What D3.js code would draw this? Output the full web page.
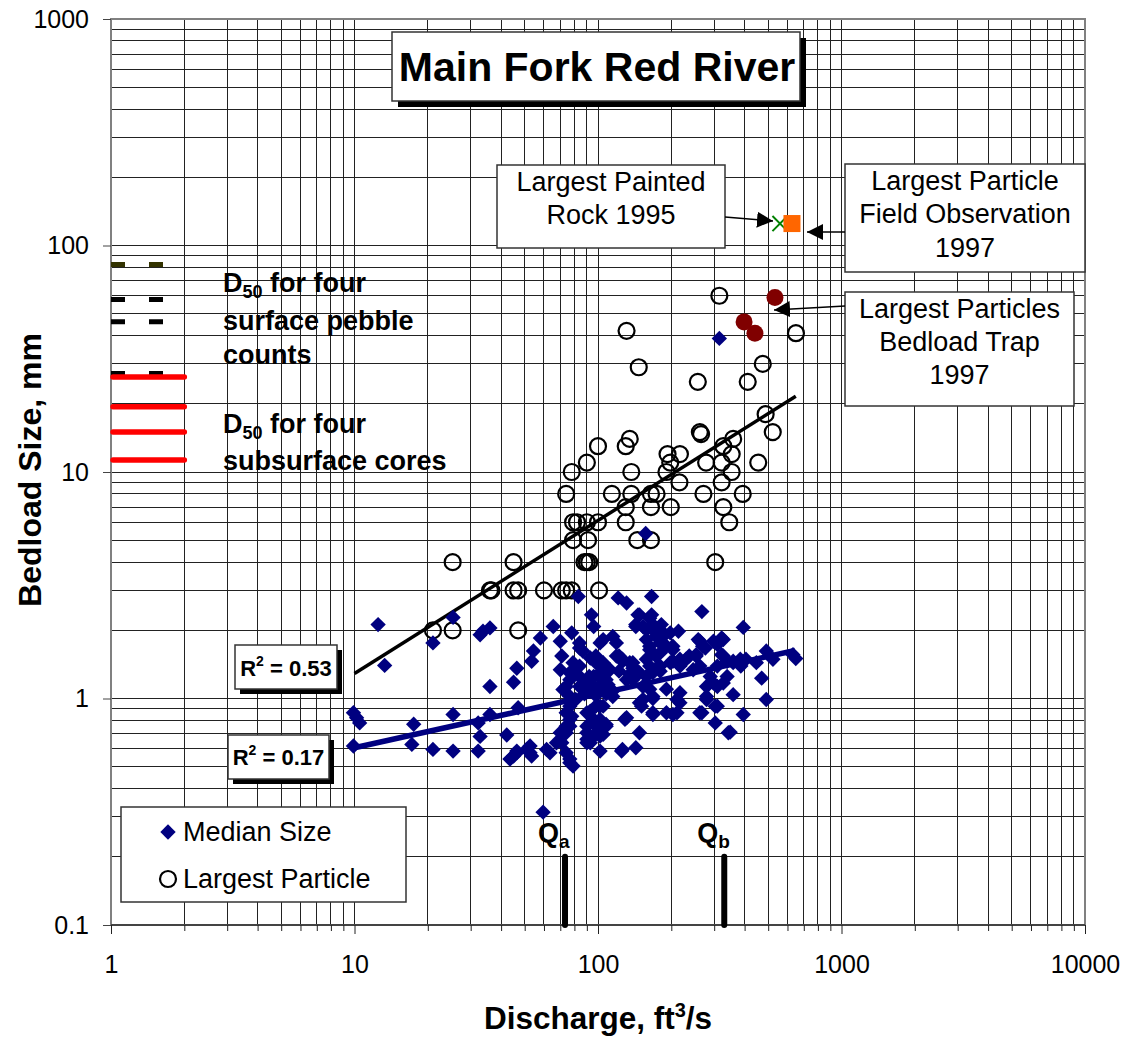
<!DOCTYPE html>
<html><head><meta charset="utf-8">
<script src="https://cdn.jsdelivr.net/npm/d3@7"></script>
<style>body{margin:0;background:#fff;} svg{display:block;} text{font-family:"Liberation Sans",Arial,sans-serif;}</style>
</head><body><svg id="c" width="1130" height="1038"></svg>
<script>
// ---------------- data ----------------
const xTickLabels = ["1","10","100","1000","10000"];
const yTickLabels = ["0.1","1","10","100","1000"];

// Median size (discharge ft3/s, size mm)
const medianSize = [
[9.9,0.617],[9.9,0.865],[10.2,0.822],[10.5,0.78],
[12.5,2.12],[13.3,1.40],[17.2,0.627],[17.5,0.77],[21,1.76],[21,0.596],
[25.4,2.28],[25.4,0.85],[25.4,0.586],[32.8,1.91],[33.7,1.98],[36,2.05],[36,1.13],
[32.2,0.78],[32.8,0.68],[32.2,0.586],[36,0.85],
[42.2,0.69],[45,1.18],[46.4,1.36],[47,0.91],[45,0.557],[43.5,0.54],[46.4,0.576],[46.4,0.586],
[50.9,0.596],[52.6,0.617],[53.4,0.557],[52.6,0.576],[53.4,1.46],[54.3,1.62],[58,1.85],[59.5,0.315],
[61.5,0.596],[63.5,0.576],[65.5,2.08],[67.5,0.638],[70,1.79],[70,1.34],[71,1.54],[71.8,1.095],
[70,0.706],[71,0.638],[74,0.576],[74,0.706],[74,0.865],[74,0.755],[74,1.13],[76.6,1.02],[76.6,1.21],
[76.6,0.925],[76.6,0.755],[76.6,0.52],[76.6,0.54],[76.6,0.808],[76.6,1.30],[78,1.95],[78,0.835],
[79,1.44],[79,0.503],[81,1.36],[81,0.99],[83,2.82],[84,1.67],[84,1.76],[84,1.39],[84,1.13],
[84,1.25],[86.6,1.62],[88,1.05],[90,1.17],[90,1.20],[90,0.865],[90,0.706],[90,0.755],[90,0.66],
[90,0.638],[92,1.25],[93,1.51],[93,0.879],[93,0.638],[93,0.66],[94,2.34],[95,1.15],[96,2.08],
[96,1.10],[96,0.808],[96,0.682],[96,1.25],[98,1.44],[98,1.54],[98,0.925],[98,0.755],[98,1.03],
[100,1.10],[102,1.76],[102,1.30],[102,1.13],[102,0.808],[102,0.706],[102,0.586],[102,0.925],
[102,0.682],[105,1.82],[105,1.13],[105,1.20],[105,1.44],[105,0.694],[105,0.925],[108,1.21],
[108,1.05],[108,0.768],[108,0.755],[108,1.10],[110,1.15],[112,1.34],[115,1.88],[115,1.08],
[115,1.02],[119,1.76],[119,1.54],[121,2.78],[122,1.54],[122,1.32],[125,0.586],[126,1.49],
[126,1.46],[126,0.596],[129,0.81],[131,2.64],[131,1.21],[131,0.822],[135,1.44],[135,1.28],
[139,1.36],[139,1.25],[139,1.21],[139,1.44],[143,1.30],[143,2.12],[143,0.606],[143,2.08],
[143,1.34],[146,2.34],[148,2.34],[148,1.30],[148,0.957],[148,0.706],[151,0.925],[153,2.08],
[153,1.13],[153,0.99],[157,5.35],[158,1.82],[158,1.49],[158,1.25],[158,2.01],[163,1.70],
[163,1.39],[163,1.64],[163,2.26],[163,1.10],[166,2.82],[166,2.34],[168,2.12],[168,1.30],
[168,0.85],[168,1.0],[168,2.01],[168,0.865],[168,1.02],[173,1.88],[173,1.54],[177,1.39],
[180,2.01],[180,1.76],[180,1.59],[180,1.32],[180,1.39],[182,2.12],[185,1.88],[191,1.70],
[191,0.865],[191,1.10],[198,1.95],[198,1.44],[203,1.70],[203,1.64],[203,1.46],[203,0.85],
[211,0.865],[211,0.99],[214,1.98],[217,0.957],[217,1.49],[217,1.39],[217,1.06],[230,1.49],
[237,1.54],[246,1.34],[253,1.56],[253,1.54],[258,1.82],[262,1.79],[262,1.39],[262,0.865],
[267,2.42],[267,0.865],[269,1.70],[276,1.67],[279,0.99],[279,1.13],[279,1.02],[289,1.25],
[298,1.79],[298,1.17],[303,0.925],[303,0.78],[309,1.73],[309,1.39],[309,1.13],[309,0.925],
[315,38.9],[322,1.85],[322,1.56],[327,1.54],[327,1.82],[327,1.17],[339,1.46],[339,1.25],
[343,0.706],[349,0.71],[359,1.44],[359,1.04],[359,1.46],[384,1.49],[386,1.39],[395,2.06],
[395,0.85],[405,1.49],[447,1.44],[470,1.23],[491,1.62],[491,0.99],[523,1.49],[632,1.56],[649,1.50]
];

// Largest particle (discharge ft3/s, size mm)
const largestParticle = [
[21,2],[25.3,2],[47,2],[25.3,4],[45,4],[36,3],[36.5,3],[45,3],[47,3],[60,3],[71,3],[74,3],[78,3],[101,3],
[88,4],[90,4],[92,4],[303,4],[79,5],[91,5],[145,5],[165,5],
[79,6],[82,6],[90,6],[100,6],[130,6],[346,6],[130,7],[165,7],[199,7],[327,7],
[74,8],[114,8],[137,8],[165,8],[174,8],[271,8],[393,8],[216,9],[322,9],
[78,10],[137,10],[191,10],[354,10],[90,11],[198,11],[278,11],[322,11],[455,11],
[193,12],[217,12],[354,12],[100,13],[130,13],[327,13],[135,14],[359,14],
[262,15],[265,14.7],[522,15],[488,18],[257,25],[412,25],[475,30],[147,29],
[131,42],[650,41],[315,60]
];

const bedloadTrap = [[398,46],[441,41],[533,59]];
const fieldObservation = [[626,125]];
const paintedRock = [[559,125]];

const trendLargest = [[10,1.29],[649,21.6]];
const trendMedian = [[10,0.606],[644,1.63]];

const pebbleD50 = [82.5,57.7,46.1,27.2];
const pebbleColors = ["#333300","#000","#000","#000"];
const coreD50 = [26.3,19.4,15.0,11.3];
const d50Range = [1,2];

const dischargeMarks = [{sub:"a",q:73.2},{sub:"b",q:330}];
const qLineTop = 0.2;

// ---------------- drawing ----------------
const W=1130,H=1038;
const svg = d3.select("#c");
const x = d3.scaleLog().domain([1,10000]).range([111,1085]);
const y = d3.scaleLog().domain([0.1,1000]).range([925,19]);
const isMajor = d => Math.abs(Math.log10(d) - Math.round(Math.log10(d))) < 1e-9;

svg.append("rect").attr("width",W).attr("height",H).attr("fill","#fff");

// grid
const gv = svg.append("g").attr("shape-rendering","crispEdges");
gv.selectAll("line").data(x.ticks()).join("line")
  .attr("x1",d=>x(d)).attr("x2",d=>x(d)).attr("y1",y(1000)).attr("y2",y(0.1))
  .attr("stroke","#222").attr("stroke-width",1);
const gh = svg.append("g").attr("shape-rendering","crispEdges");
gh.selectAll("line").data(y.ticks()).join("line")
  .attr("y1",d=>y(d)).attr("y2",d=>y(d)).attr("x1",x(1)).attr("x2",x(10000))
  .attr("stroke","#222").attr("stroke-width",1);

// frame
svg.append("rect").attr("x",x(1)).attr("y",y(1000)).attr("width",x(10000)-x(1)).attr("height",y(0.1)-y(1000))
  .attr("fill","none").attr("stroke","#808080").attr("stroke-width",2);
svg.append("line").attr("x1",x(1)).attr("x2",x(10000)).attr("y1",y(0.1)).attr("y2",y(0.1))
  .attr("stroke","#444").attr("stroke-width",2);

// x axis
const gx = svg.append("g").attr("transform",`translate(0,${y(0.1)})`)
  .call(d3.axisBottom(x).tickValues(x.ticks()).tickSize(6).tickSizeOuter(0)
    .tickFormat(d=>isMajor(d)?xTickLabels[Math.round(Math.log10(d))]:""));
gx.attr("font-family",null).attr("font-size",25);
gx.select(".domain").remove();
gx.selectAll(".tick line").attr("stroke","#222").attr("y2",d=>isMajor(d)?9:6);
gx.selectAll(".tick text").attr("y",48).attr("dy",null).attr("fill","#000");

// y axis
const gy = svg.append("g").attr("transform",`translate(${x(1)},0)`)
  .call(d3.axisLeft(y).tickValues(y.ticks().filter(isMajor)).tickSize(8).tickSizeOuter(0)
    .tickFormat(d=>yTickLabels[Math.round(Math.log10(d))+1]));
gy.attr("font-family",null).attr("font-size",25);
gy.select(".domain").remove();
gy.selectAll(".tick line").attr("stroke","#444");
gy.selectAll(".tick text").attr("x",-22).attr("fill","#000");

// D50 lines
svg.append("g").selectAll("line").data(pebbleD50).join("line")
  .attr("x1",x(d50Range[0])).attr("x2",x(d50Range[1])).attr("y1",d=>y(d)).attr("y2",d=>y(d))
  .attr("stroke",(d,i)=>pebbleColors[i]).attr("stroke-width",5).attr("stroke-dasharray","14,24");
svg.append("g").selectAll("line").data(coreD50).join("line")
  .attr("x1",x(d50Range[0])+2).attr("x2",x(d50Range[1])).attr("y1",d=>y(d)).attr("y2",d=>y(d))
  .attr("stroke","#ff0000").attr("stroke-width",5.5).attr("stroke-linecap","round");

function d50Text(yb, rest){
  const t = svg.append("text").attr("x",223).attr("y",yb).attr("font-size",27).attr("font-weight","bold");
  t.append("tspan").text("D");
  t.append("tspan").attr("font-size",18).attr("dy",6).text("50");
  t.append("tspan").attr("dy",-6).text(" for four");
  rest.forEach((r,i)=>svg.append("text").attr("x",223).attr("y",r[1]).attr("font-size",27).attr("font-weight","bold").text(r[0]));
}
d50Text(292,[["surface pebble",330],["counts",364]]);
d50Text(433,[["subsurface cores",470]]);

// trend lines
const line = d3.line().x(d=>x(d[0])).y(d=>y(d[1]));
svg.append("path").datum(trendLargest).attr("d",line).attr("stroke","#000").attr("stroke-width",3.5).attr("fill","none");

// largest particle circles
svg.append("g").selectAll("circle").data(largestParticle).join("circle")
  .attr("cx",d=>x(d[0])).attr("cy",d=>y(d[1])).attr("r",8)
  .attr("fill","none").attr("stroke","#000").attr("stroke-width",2.2);

// median diamonds
const diamond = d3.symbol(d3.symbolSquare, 118)();
svg.append("g").selectAll("path").data(medianSize).join("path")
  .attr("d",diamond).attr("transform",d=>`translate(${x(d[0])},${y(d[1])}) rotate(45)`)
  .attr("fill","#000080");
svg.append("path").datum(trendMedian).attr("d",line).attr("stroke","#000080").attr("stroke-width",5.5).attr("fill","none");

// special points
svg.append("g").selectAll("circle").data(bedloadTrap).join("circle")
  .attr("cx",d=>x(d[0])).attr("cy",d=>y(d[1])).attr("r",8.5).attr("fill","#800000");
svg.append("g").selectAll("path").data(paintedRock).join("path")
  .attr("d",d3.symbol(d3.symbolX,150)()).attr("transform",d=>`translate(${x(d[0])},${y(d[1])})`)
  .attr("stroke","#008000").attr("stroke-width",2).attr("fill","none");
svg.append("g").selectAll("path").data(fieldObservation).join("path")
  .attr("d",d3.symbol(d3.symbolSquare,290)()).attr("transform",d=>`translate(${x(d[0])},${y(d[1])})`)
  .attr("fill","#ff6600");

// Q marks
dischargeMarks.forEach(m=>{
  svg.append("line").attr("x1",x(m.q)).attr("x2",x(m.q)).attr("y1",y(qLineTop)).attr("y2",y(0.1))
    .attr("stroke","#000").attr("stroke-width",6).attr("stroke-linecap","round");
  const t = svg.append("text").attr("x",x(m.q)-27).attr("y",842).attr("font-size",27).attr("font-weight","bold");
  t.append("tspan").text("Q");
  t.append("tspan").attr("font-size",19).attr("dy",6).text(m.sub);
});

// boxes
function box(x0,y0,x1,y1,shadow,sw){
  if(shadow) svg.append("rect").attr("x",x0+shadow).attr("y",y0+shadow).attr("width",x1-x0).attr("height",y1-y0).attr("fill","#000");
  svg.append("rect").attr("x",x0).attr("y",y0).attr("width",x1-x0).attr("height",y1-y0)
    .attr("fill","#fff").attr("stroke","#333").attr("stroke-width",sw||1.5);
}
// title
box(392,32,800,101,6,1.5);
svg.append("text").attr("x",597).attr("y",81).attr("text-anchor","middle").attr("font-size",41).attr("font-weight","bold").text("Main Fork Red River");

// annotation boxes
function annot(x0,y0,x1,y1,lines,bases){
  box(x0,y0,x1,y1,0,1.5);
  lines.forEach((l,i)=>svg.append("text").attr("x",(x0+x1)/2).attr("y",bases[i]).attr("text-anchor","middle").attr("font-size",27).text(l));
}
annot(497,165,725,248,["Largest Painted","Rock 1995"],[191,224]);
annot(845,164,1085,272,["Largest Particle","Field Observation","1997"],[190,223,257]);
annot(845,292,1074,406,["Largest Particles","Bedload Trap","1997"],[318,351,384]);

// arrows
svg.append("defs").append("marker").attr("id","ah").attr("viewBox","0 0 10 10").attr("refX",10).attr("refY",5)
  .attr("markerWidth",16).attr("markerHeight",16).attr("markerUnits","userSpaceOnUse").attr("orient","auto")
  .append("path").attr("d","M0,0 L10,5 L0,10 z").attr("fill","#000");
[[725,217,773,221],[845,232,807,232],[845,306,774,310]].forEach(a=>{
  svg.append("line").attr("x1",a[0]).attr("y1",a[1]).attr("x2",a[2]).attr("y2",a[3])
    .attr("stroke","#000").attr("stroke-width",1.5).attr("marker-end","url(#ah)");
});

// R2 boxes
function r2(x0,y0,x1,y1,val,base){
  box(x0,y0,x1,y1,5,1.5);
  const t = svg.append("text").attr("x",(x0+x1)/2).attr("y",base).attr("text-anchor","middle").attr("font-size",22).attr("font-weight","bold");
  t.append("tspan").text("R");
  t.append("tspan").attr("font-size",14).attr("dy",-10).text("2");
  t.append("tspan").attr("dy",10).text(" = "+val);
}
r2(235,645,337,689,"0.53",676);
r2(228,735,329,779,"0.17",765);

// legend
box(121,807,406,902,0,1.5);
svg.append("path").attr("d",diamond).attr("transform","translate(168,832) rotate(45)").attr("fill","#000080");
svg.append("text").attr("x",183).attr("y",841).attr("font-size",27).text("Median Size");
svg.append("circle").attr("cx",168).attr("cy",879).attr("r",8).attr("fill","none").attr("stroke","#000").attr("stroke-width",2.2);
svg.append("text").attr("x",183).attr("y",888).attr("font-size",27).text("Largest Particle");

// axis titles
const xt = svg.append("text").attr("x",598).attr("y",1029).attr("text-anchor","middle").attr("font-size",31.5).attr("font-weight","bold");
xt.append("tspan").text("Discharge, ft");
xt.append("tspan").attr("font-size",20).attr("dy",-12).text("3");
xt.append("tspan").attr("dy",12).text("/s");
svg.append("text").attr("transform","translate(41,470) rotate(-90)").attr("text-anchor","middle")
  .attr("font-size",32).attr("font-weight","bold").text("Bedload Size, mm");
</script>
</body></html>
